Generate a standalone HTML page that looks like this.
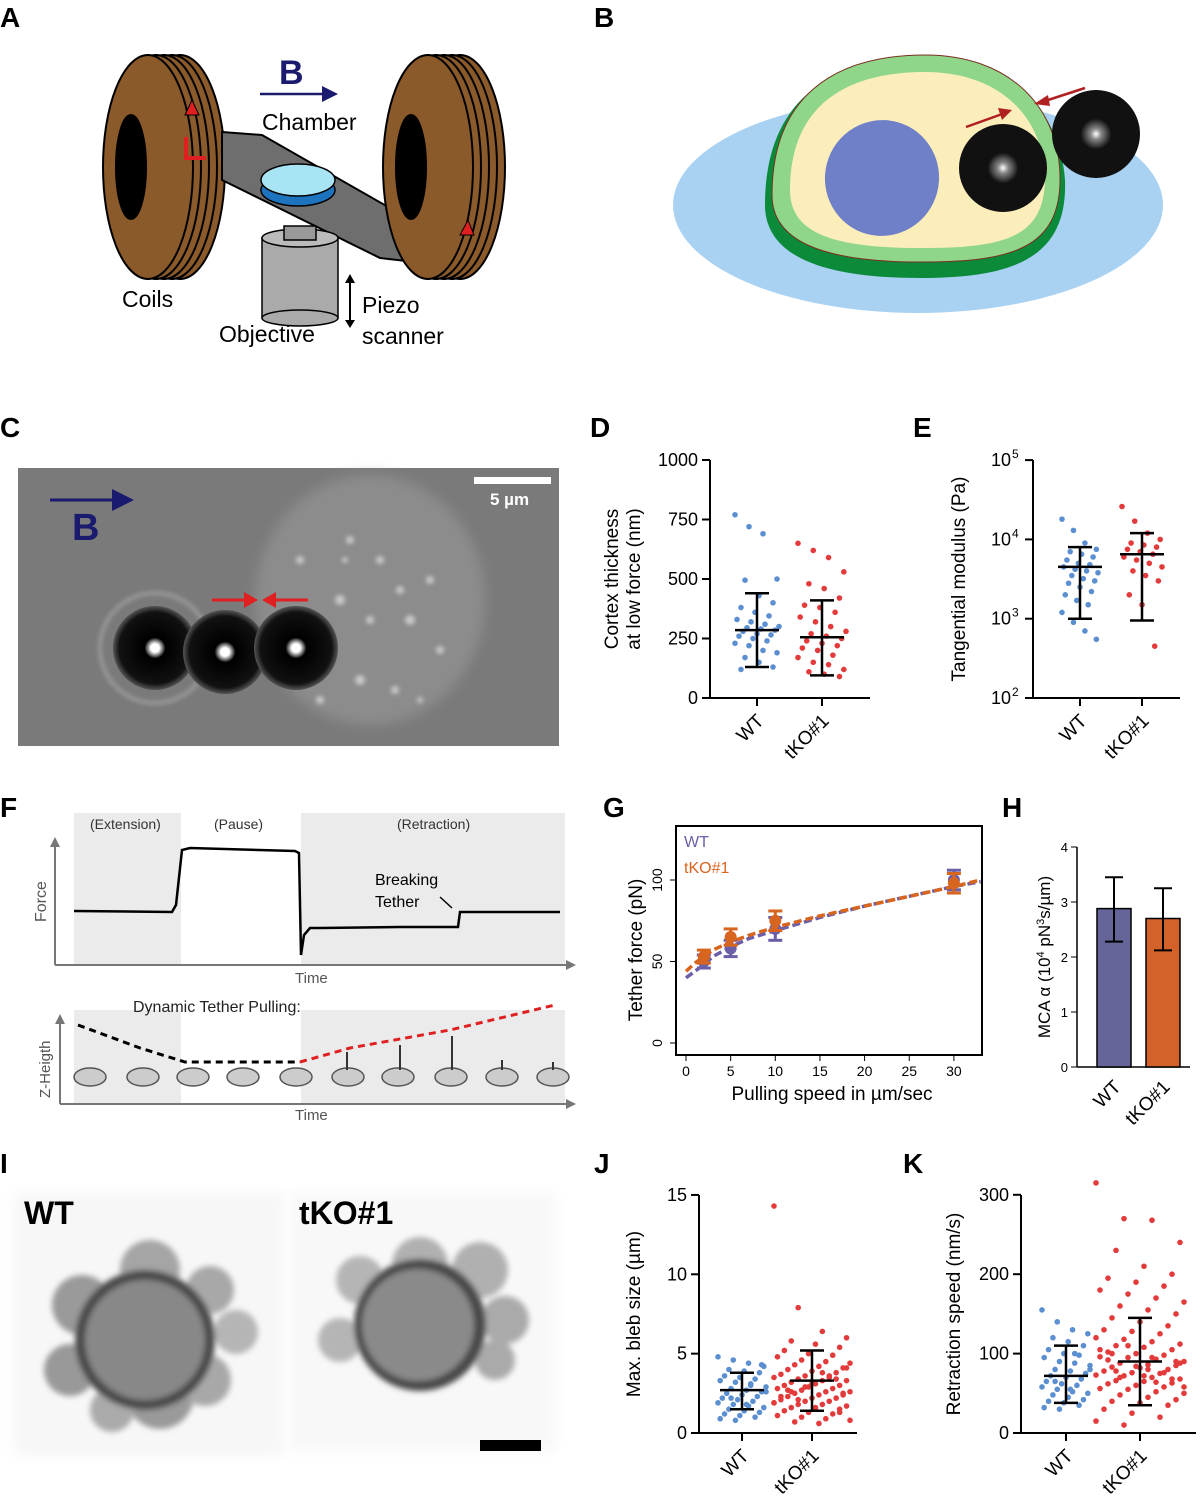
<!DOCTYPE html>
<html><head><meta charset="utf-8">
<style>
html,body{margin:0;padding:0;background:#fff;}
svg{display:block;font-family:"Liberation Sans",sans-serif;}
.pl{font-size:28px;font-weight:bold;}
</style></head>
<body>
<svg id="fig" width="1200" height="1505" viewBox="0 0 1200 1505" xmlns="http://www.w3.org/2000/svg">
<defs>
<radialGradient id="beadg" cx="50%" cy="50%" r="50%"><stop offset="0" stop-color="#fff"/><stop offset="0.12" stop-color="#888"/><stop offset="0.35" stop-color="#111"/><stop offset="1" stop-color="#111"/></radialGradient>
<radialGradient id="bead2" cx="50%" cy="50%" r="50%"><stop offset="0" stop-color="#fff"/><stop offset="0.1" stop-color="#fff"/><stop offset="0.25" stop-color="#000"/><stop offset="0.85" stop-color="#111"/><stop offset="1" stop-color="#555"/></radialGradient>
<filter id="blur6"><feGaussianBlur stdDeviation="6"/></filter>
<filter id="blur3"><feGaussianBlur stdDeviation="3"/></filter>
<filter id="blur2"><feGaussianBlur stdDeviation="2"/></filter>
</defs>

<g>
<text class="pl" x="0" y="27">A</text><text class="pl" x="594" y="27">B</text>
<text class="pl" x="0" y="437">C</text><text class="pl" x="590" y="437">D</text>
<text class="pl" x="913" y="437">E</text><text class="pl" x="0" y="817">F</text>
<text class="pl" x="603" y="817">G</text><text class="pl" x="1002" y="817">H</text>
<text class="pl" x="0" y="1173">I</text><text class="pl" x="594" y="1173">J</text>
<text class="pl" x="903" y="1173">K</text>
</g>

<g>
 <g stroke="#000" stroke-width="2">
  <ellipse cx="180" cy="167" rx="45" ry="112" fill="#8a5a2b"/>
  <ellipse cx="172" cy="167" rx="45" ry="112" fill="#8a5a2b"/>
  <ellipse cx="164" cy="167" rx="45" ry="112" fill="#8a5a2b"/>
  <ellipse cx="156" cy="167" rx="45" ry="112" fill="#8a5a2b"/>
  <ellipse cx="148" cy="167" rx="45" ry="112" fill="#8a5a2b"/>
  <ellipse cx="131" cy="167" rx="15" ry="52" fill="#000"/>
 </g>
 <polygon points="222,132 262,135 425,228 415,262 380,258 222,180" fill="#6e6e6e" stroke="#000" stroke-width="2"/>
 <g stroke="#000" stroke-width="1.5">
  <rect x="262" y="238" width="76" height="80" fill="#aaa"/>
  <ellipse cx="300" cy="318" rx="38" ry="8" fill="#aaa"/>
  <ellipse cx="300" cy="238" rx="38" ry="9" fill="#bbb"/>
  <rect x="284" y="226" width="32" height="14" fill="#999"/>
 </g>
 <g stroke="#000" stroke-width="1.5">
  <ellipse cx="298" cy="190" rx="37" ry="16" fill="#1e73be"/>
  <ellipse cx="298" cy="180" rx="37" ry="16" fill="#a9e4f5"/>
 </g>
 <g stroke="#000" stroke-width="2">
  <ellipse cx="460" cy="167" rx="45" ry="112" fill="#8a5a2b"/>
  <ellipse cx="452" cy="167" rx="45" ry="112" fill="#8a5a2b"/>
  <ellipse cx="444" cy="167" rx="45" ry="112" fill="#8a5a2b"/>
  <ellipse cx="436" cy="167" rx="45" ry="112" fill="#8a5a2b"/>
  <ellipse cx="428" cy="167" rx="45" ry="112" fill="#8a5a2b"/>
  <ellipse cx="411" cy="167" rx="15" ry="52" fill="#000"/>
 </g>
 <polygon points="460,235 468,220 474,235" fill="#e02020" stroke="#000"/>
 <g fill="#e02020" stroke="#000" stroke-width="1">
  <polygon points="185,115 192,100 199,115"/>
  <rect x="184" y="156" width="22" height="4" stroke="none"/><rect x="184" y="137" width="4" height="20" stroke="none"/>
 </g>
 <text x="279" y="84" font-size="34" font-weight="bold" fill="#1a1a6e">B</text>
 <line x1="260" y1="94" x2="325" y2="94" stroke="#1a1a6e" stroke-width="2.5"/>
 <polygon points="322,86 338,94 322,102" fill="#1a1a6e"/>
 <text x="262" y="130" font-size="23">Chamber</text>
 <text x="122" y="307" font-size="23">Coils</text>
 <text x="219" y="342" font-size="23">Objective</text>
 <text x="362" y="313" font-size="23">Piezo</text>
 <text x="362" y="344" font-size="23">scanner</text>
 <line x1="350" y1="283" x2="350" y2="320" stroke="#000" stroke-width="2"/>
 <polygon points="345,283 350,274 355,283"/><polygon points="345,320 350,328 355,320"/>
</g>

<g>
 <ellipse cx="918" cy="205" rx="245" ry="108" fill="#a9d2f2"/>
 <path d="M765,205 C765,100 830,58 925,58 C1010,58 1060,110 1065,180 C1068,260 1010,278 920,278 C820,278 765,255 765,205 Z" fill="#0b8a3a"/>
 <path d="M772,195 C772,100 830,55 925,55 C1008,55 1058,105 1060,175 C1062,250 1010,262 920,262 C820,262 772,240 772,195 Z" fill="#8fd68a" stroke="#7a3020" stroke-width="1"/>
 <path d="M790,190 C790,110 840,72 925,72 C998,72 1042,115 1045,175 C1046,238 1005,248 920,248 C830,248 790,232 790,190 Z" fill="#fbeebb"/>
 <ellipse cx="882" cy="178" rx="57" ry="58" fill="#6f7fc8" transform="rotate(15 882 178)"/>
 <circle cx="1003" cy="168" r="44" fill="url(#beadg)"/>
 <circle cx="1096" cy="134" r="44" fill="url(#beadg)"/>
 <line x1="966" y1="127" x2="1005" y2="113" stroke="#b02020" stroke-width="2.5"/>
 <polygon points="1012,110 998,108 1002,120" fill="#b02020"/>
 <line x1="1085" y1="88" x2="1045" y2="101" stroke="#b02020" stroke-width="2.5"/>
 <polygon points="1034,104 1048,95 1050,106" fill="#b02020"/>
</g>

<g>
 <rect x="18" y="468" width="541" height="278" fill="#7a7a7a"/>
 <ellipse cx="370" cy="600" rx="115" ry="125" fill="#8c8c8c" filter="url(#blur6)"/>
 <g fill="#c8c8c8" filter="url(#blur2)">
  <circle cx="340" cy="600" r="5"/><circle cx="380" cy="560" r="4"/><circle cx="410" cy="620" r="5"/><circle cx="360" cy="680" r="5"/>
  <circle cx="430" cy="580" r="4"/><circle cx="395" cy="690" r="4"/><circle cx="330" cy="650" r="4"/><circle cx="440" cy="650" r="4"/>
  <circle cx="350" cy="540" r="4"/><circle cx="300" cy="560" r="4"/><circle cx="370" cy="620" r="4"/><circle cx="400" cy="590" r="4"/>
  <circle cx="320" cy="700" r="4"/><circle cx="420" cy="700" r="3"/><circle cx="345" cy="560" r="3"/>
 </g>
 <circle cx="155" cy="648" r="55" fill="none" stroke="#999" stroke-width="4" filter="url(#blur2)"/>
 <circle cx="155" cy="648" r="42" fill="url(#bead2)"/>
 <circle cx="225" cy="652" r="42" fill="url(#bead2)"/>
 <circle cx="296" cy="648" r="42" fill="url(#bead2)"/>
 <line x1="212" y1="600" x2="252" y2="600" stroke="#e02020" stroke-width="3"/>
 <polygon points="258,600 244,592 244,608" fill="#e02020"/>
 <line x1="308" y1="600" x2="268" y2="600" stroke="#e02020" stroke-width="3"/>
 <polygon points="262,600 276,592 276,608" fill="#e02020"/>
 <rect x="474" y="477" width="77" height="7" fill="#fff"/>
 <text x="490" y="505" font-size="17" font-weight="bold" fill="#fff">5 µm</text>
 <line x1="50" y1="500" x2="118" y2="500" stroke="#1a1a6e" stroke-width="3"/>
 <polygon points="112,489 134,500 112,511" fill="#1a1a6e"/>
 <text x="72" y="540" font-size="38" font-weight="bold" fill="#1a1a6e">B</text>
</g>

<g>
 <rect x="74" y="813" width="107" height="152" fill="#ebebeb"/>
 <rect x="301" y="813" width="264" height="152" fill="#ebebeb"/>
 <rect x="74" y="1010" width="107" height="94" fill="#ebebeb"/>
 <rect x="301" y="1010" width="264" height="94" fill="#ebebeb"/>
 <text x="90" y="829" font-size="14" fill="#333">(Extension)</text>
 <text x="214" y="829" font-size="14" fill="#333">(Pause)</text>
 <text x="397" y="829" font-size="14" fill="#333">(Retraction)</text>
 <line x1="55" y1="965" x2="568" y2="965" stroke="#777" stroke-width="2"/>
 <polygon points="566,960 576,965 566,970" fill="#777"/>
 <line x1="55" y1="965" x2="55" y2="845" stroke="#777" stroke-width="2"/>
 <polygon points="50,847 55,837 60,847" fill="#777"/>
 <text x="46" y="922" font-size="16" fill="#555" transform="rotate(-90 46 922)">Force</text>
 <text x="295" y="983" font-size="15" fill="#555">Time</text>
 <polyline fill="none" stroke="#000" stroke-width="2.5" points="74,911 172,912 176,905 182,850 190,848 295,851 299,853 301,955 304,935 310,928 320,928 400,927 458,927 460,912 560,912"/>
 <text x="375" y="885" font-size="16">Breaking</text><text x="375" y="907" font-size="16">Tether</text>
 <line x1="440" y1="897" x2="452" y2="908" stroke="#000" stroke-width="1.5"/>
 <line x1="60" y1="1104" x2="568" y2="1104" stroke="#777" stroke-width="2"/>
 <polygon points="566,1099 576,1104 566,1109" fill="#777"/>
 <line x1="60" y1="1104" x2="60" y2="1022" stroke="#777" stroke-width="2"/>
 <polygon points="55,1024 60,1014 65,1024" fill="#777"/>
 <text x="50" y="1098" font-size="15" fill="#555" transform="rotate(-90 50 1098)">Z-Heigth</text>
 <text x="295" y="1120" font-size="15" fill="#555">Time</text>
 <text x="133" y="1012" font-size="16" fill="#222">Dynamic Tether Pulling:</text>
 <polyline fill="none" stroke="#000" stroke-width="3" stroke-dasharray="7,5" points="78,1025 140,1048 185,1062 300,1062"/>
 <polyline fill="none" stroke="#e02020" stroke-width="3" stroke-dasharray="7,5" points="300,1062 350,1048 450,1030 555,1005"/>
 <g fill="#ccc" stroke="#555" stroke-width="1.5">
  <ellipse cx="90" cy="1077" rx="16" ry="9"/><ellipse cx="143" cy="1077" rx="16" ry="9"/><ellipse cx="193" cy="1077" rx="16" ry="9"/>
  <ellipse cx="243" cy="1077" rx="16" ry="9"/><ellipse cx="296" cy="1077" rx="16" ry="9"/><ellipse cx="348" cy="1077" rx="16" ry="9"/>
  <ellipse cx="398" cy="1077" rx="16" ry="9"/><ellipse cx="451" cy="1077" rx="16" ry="9"/><ellipse cx="502" cy="1077" rx="16" ry="9"/>
  <ellipse cx="553" cy="1077" rx="16" ry="9"/>
 </g>
 <g stroke="#333" stroke-width="2" fill="none">
  <line x1="347" y1="1052" x2="347" y2="1070"/><line x1="400" y1="1045" x2="400" y2="1070"/><line x1="452" y1="1036" x2="452" y2="1070"/><line x1="502" y1="1060" x2="502" y2="1070"/><line x1="553" y1="1062" x2="553" y2="1070"/>
 </g>
</g>

<g>
 <rect x="14" y="1192" width="270" height="265" fill="#f7f7f7" filter="url(#blur6)"/>
 <rect x="290" y="1192" width="266" height="260" fill="#f8f8f8" filter="url(#blur6)"/>
 <g filter="url(#blur3)">
  <circle cx="82" cy="1305" r="30" fill="#9a9a9a"/><circle cx="236" cy="1332" r="22" fill="#b5b5b5"/><circle cx="150" cy="1270" r="30" fill="#a5a5a5"/>
  <circle cx="70" cy="1370" r="26" fill="#999"/><circle cx="160" cy="1395" r="34" fill="#9a9a9a"/><circle cx="210" cy="1290" r="24" fill="#a8a8a8"/>
  <circle cx="205" cy="1380" r="26" fill="#a8a8a8"/><circle cx="112" cy="1410" r="22" fill="#aaa"/>
  <circle cx="145" cy="1340" r="70" fill="#4a4a4a"/>
  <circle cx="145" cy="1340" r="60" fill="#888"/>
 </g>
 <g filter="url(#blur3)">
  <circle cx="360" cy="1280" r="24" fill="#b5b5b5"/><circle cx="420" cy="1265" r="28" fill="#b0b0b0"/><circle cx="480" cy="1270" r="28" fill="#b0b0b0"/>
  <circle cx="505" cy="1320" r="24" fill="#aaa"/><circle cx="495" cy="1360" r="20" fill="#aaa"/><circle cx="340" cy="1340" r="22" fill="#b5b5b5"/>
  <circle cx="420" cy="1325" r="66" fill="#4a4a4a"/><circle cx="418" cy="1325" r="56" fill="#8a8a8a"/>
 </g>
 <text x="24" y="1224" font-size="32" font-weight="bold">WT</text>
 <text x="299" y="1224" font-size="32" font-weight="bold">tKO#1</text>
 <rect x="480" y="1440" width="61" height="11" fill="#000"/>
</g>

<g id="charts"></g>
</svg>

<script>
const groups = ["WT", "tKO#1"];
const dWT = [770,720,690,500,495,430,400,380,360,345,330,320,310,300,295,290,285,280,270,265,260,250,240,230,220,200,190,170,150,130,120];
const dKO = [650,620,590,530,480,460,420,390,380,360,340,320,300,280,270,260,250,240,230,220,210,200,180,170,150,140,120,110,100,90];
const dMean = [285, 255];
const dLo = [130, 95];
const dHi = [440, 410];
const dTicks = [0,250,500,750,1000];
const eWT = [18000,13000,9000,7500,7000,6500,6000,5500,5000,4800,4500,4200,4000,3800,3500,3200,3000,2800,2500,2200,2000,1700,1500,1200,900,700,550];
const eKO = [26000,17000,12000,10000,9000,8500,8000,7500,7000,6500,6000,5500,5000,4500,4000,3500,3000,2000,1500,450];
const eMean = [4500, 6500];
const eLo = [1000, 950];
const eHi = [8000, 12000];
const eTickExp = [2,3,4,5];
const gSpeeds = [2,5,10,30];
const gWT = [50,58,70,100];
const gWTerr = [4,5,7,6];
const gKO = [53,65,75,98];
const gKOerr = [4,5,6,6];
const gFitX = [0,1,2,3,5,7,10,15,20,25,30,33];
const gFitWT = [40,44,48,53,59,64,69,77,84,90,96,99];
const gFitKO = [44,49,53,57,62,66,71,78,84,90,96,100];
const gXTicks = [0,5,10,15,20,25,30];
const gYTicks = [0,50,100];
const hVals = [2.88, 2.7];
const hLo = [2.28, 2.12];
const hHi = [3.45, 3.25];
const hTicks = [0,1,2,3,4];
const jWT = [4.8,4.6,4.4,4.2,4.0,3.9,3.8,3.6,3.5,3.4,3.3,3.2,3.0,2.9,2.8,2.7,2.6,2.5,2.4,2.3,2.2,2.1,2.0,1.9,1.8,1.7,1.6,1.5,1.4,1.3,1.2,1.1,1.0,0.9,0.8,3.1,2.6,2.2,1.8,4.3];
const jKO = [14.3,7.9,6.4,6.0,5.8,5.6,5.4,5.2,5.0,4.9,4.8,4.6,4.5,4.4,4.3,4.2,4.1,4.0,3.9,3.8,3.7,3.6,3.5,3.5,3.4,3.3,3.3,3.2,3.1,3.0,3.0,2.9,2.8,2.8,2.7,2.6,2.6,2.5,2.4,2.4,2.3,2.2,2.2,2.1,2.0,2.0,1.9,1.8,1.8,1.7,1.6,1.5,1.5,1.4,1.3,1.2,1.1,1.0,0.9,0.8,0.7,0.6,2.5,2.7,3.1,3.4,2.3,2.9,3.6,1.9,2.1,3.8,4.1,2.6,1.6,1.3];
const jMean = [2.7, 3.3];
const jLo = [1.5, 1.4];
const jHi = [3.8, 5.2];
const jTicks = [0,5,10,15];
const kWT = [155,140,130,125,120,115,110,105,100,98,95,90,88,85,80,78,75,72,70,68,65,62,60,58,55,52,50,48,45,42,40,38,35,32,30,100,80,65,55];
const kKO = [315,270,268,240,230,210,200,195,190,185,180,175,170,165,160,155,150,145,140,135,130,128,125,120,118,115,112,110,108,105,102,100,98,96,95,93,90,88,86,85,83,82,80,78,76,75,73,72,70,68,66,65,63,62,60,58,56,55,52,50,48,45,42,40,38,35,30,25,20,15,10,95,88,78,72,68,92,84,76,105,110,64,58,70,80,90,100];
const kMean = [72, 90];
const kLo = [38, 35];
const kHi = [110, 145];
const kTicks = [0,100,200,300];

const NS = "http://www.w3.org/2000/svg";
const root = document.getElementById("charts");
function mk(parent, tag, attrs, text){
  const el = document.createElementNS(NS, tag);
  for (const k in attrs) el.setAttribute(k, attrs[k]);
  if (text !== undefined) el.textContent = text;
  parent.appendChild(el);
  return el;
}
function jit(i, w){ return (((i*7919) % 23) - 11) / 11 * w; }

function dotPlot(cfg){
  const g = mk(root, "g", {});
  
  
  const y = cfg.y;
  const ax = mk(g, "line", {x1:cfg.x0, y1:cfg.yTop, x2:cfg.x0, y2:cfg.yBot, stroke:"#000","stroke-width":2});
  
  
  const xa = mk(g, "line", {x1:cfg.x0, y1:cfg.yBot, x2:cfg.x1, y2:cfg.yBot, stroke:"#000","stroke-width":2});
  
  
  cfg.ticks.forEach((t) => {
    const yy = y(t);
    mk(g, "line", {x1:cfg.x0-8, y1:yy, x2:cfg.x0, y2:yy, stroke:"#000","stroke-width":2});
    const lb = cfg.tickLabel ? cfg.tickLabel(t) : String(t);
    const tx = mk(g, "text", {x:cfg.x0-12, y:yy+6, "text-anchor":"end", "font-size":18}, cfg.log ? "10" : lb);
    
    
    if (cfg.log) {
      tx.setAttribute('x', cfg.x0-22);
      const sup = mk(g, "text", {x:cfg.x0-21, y:yy-2, "font-size":12}, lb);
      
      
    }
  });
  cfg.xs.forEach(xx => mk(g, "line", {x1:xx, y1:cfg.yBot, x2:xx, y2:cfg.yBot+8, stroke:"#000","stroke-width":2}));
  groups.forEach((gname, gi) => {
    const xx = cfg.xs[gi];
    const tl = mk(g, "text", {x:xx+8, y:cfg.yBot+24, "text-anchor":"end", "font-size":19, transform:`rotate(-45 ${xx+8} ${cfg.yBot+24})`}, gname);
    
    
    const vals = gi === 0 ? cfg.a : cfg.b;
    const col = gi === 0 ? "#5b8fd0" : "#e33b3b";
    vals.forEach((v, i) => {
      const c = mk(g, "circle", {cx: xx + jit(i, cfg.jw[gi]), cy: y(v), r: 2.8, fill: col});
      
      
    });
    const yl = y(cfg.lo[gi]), yh = y(cfg.hi[gi]), ym = y(cfg.mean[gi]);
    const eb = mk(g, "g", {stroke:"#000","stroke-width":2.5});
    
    
    mk(eb, "line", {x1:xx, y1:yl, x2:xx, y2:yh});
    mk(eb, "line", {x1:xx-12, y1:yl, x2:xx+12, y2:yl});
    mk(eb, "line", {x1:xx-12, y1:yh, x2:xx+12, y2:yh});
    mk(eb, "line", {x1:xx-22, y1:ym, x2:xx+22, y2:ym});
  });
  const cx = cfg.titleX, cy = (cfg.yTop+cfg.yBot)/2;
  const tt = mk(g, "text", {x:cx, y:cy, "text-anchor":"middle", "font-size":19, transform:`rotate(-90 ${cx} ${cy})`});
  
  
  cfg.title.forEach((line, li) => mk(tt, "tspan", {x:cx, dy: li===0 ? 0 : 22}, line));
}

dotPlot({name:"panel-d-cortex-thickness", x0:710, x1:870, yTop:460, yBot:698,
  y: v => 698 - v*0.238, ticks:dTicks, xs:[757,822], a:dWT, b:dKO, mean:dMean, lo:dLo, hi:dHi,
  jw:[22,24], titleX:618, title:["Cortex thickness","at low force (nm)"]});
dotPlot({name:"panel-e-tangential-modulus", x0:1033, x1:1180, yTop:460, yBot:698, log:true,
  y: v => 698 - (Math.log10(v)-2)*79.3, ticks:eTickExp.map(e=>Math.pow(10,e)),
  tickLabel: t => String(Math.round(Math.log10(t))), xs:[1080,1142], a:eWT, b:eKO,
  mean:eMean, lo:eLo, hi:eHi, jw:[18,20], titleX:965, title:["Tangential modulus (Pa)"]});
dotPlot({name:"panel-j-bleb-size", x0:699, x1:857, yTop:1195, yBot:1433,
  y: v => 1433 - v*15.87, ticks:jTicks, xs:[742,812], a:jWT, b:jKO, mean:jMean, lo:jLo, hi:jHi,
  jw:[24,38], titleX:640, title:["Max. bleb size (µm)"]});
dotPlot({name:"panel-k-retraction-speed", x0:1021, x1:1196, yTop:1195, yBot:1433,
  y: v => 1433 - v*0.794, ticks:kTicks, xs:[1066,1140], a:kWT, b:kKO, mean:kMean, lo:kLo, hi:kHi,
  jw:[24,44], titleX:960, title:["Retraction speed (nm/s)"]});

(function(){
  const g = mk(root, "g", {});
  
  
  const X = s => 686 + s*8.93;
  const Y = v => 1043 - v*1.63;
  const box = mk(g, "rect", {x:676, y:826, width:306, height:229, fill:"none", stroke:"#000", "stroke-width":2});
  
  
  gXTicks.forEach(t => {
    mk(g, "line", {x1:X(t), y1:1055, x2:X(t), y2:1061, stroke:"#000"});
    const tx = mk(g, "text", {x:X(t), y:1076, "text-anchor":"middle", "font-size":14}, String(t));
    
    
  });
  gYTicks.forEach(t => {
    mk(g, "line", {x1:670, y1:Y(t), x2:676, y2:Y(t), stroke:"#000"});
    const tx = mk(g, "text", {x:662, y:Y(t), "text-anchor":"middle", "font-size":14, transform:`rotate(-90 662 ${Y(t)})`}, String(t));
    
    
  });
  const xt = mk(g, "text", {x:832, y:1100, "text-anchor":"middle", "font-size":19}, "Pulling speed in µm/sec");
  
  
  const yt = mk(g, "text", {x:642, y:950, "text-anchor":"middle", "font-size":19, transform:"rotate(-90 642 950)"}, "Tether force (pN)");
  
  
  const series = [
    {n:"wt", fit:gFitWT, v:gWT, e:gWTerr, c:"#6a5fa8"},
    {n:"tko", fit:gFitKO, v:gKO, e:gKOerr, c:"#d8651f"}];
  series.forEach(s => {
    const fl = mk(g, "polyline", {points: gFitX.map((x,i)=>X(x)+","+Y(s.fit[i])).join(" "), fill:"none", stroke:s.c, "stroke-width":3.5, "stroke-dasharray":"8,4"});
    
    
    gSpeeds.forEach((sp,i) => {
      const x = X(sp), y = Y(s.v[i]), d = s.e[i]*1.63;
      mk(g, "line", {x1:x, y1:y-d, x2:x, y2:y+d, stroke:s.c, "stroke-width":3});
      mk(g, "line", {x1:x-7, y1:y-d, x2:x+7, y2:y-d, stroke:s.c, "stroke-width":3});
      mk(g, "line", {x1:x-7, y1:y+d, x2:x+7, y2:y+d, stroke:s.c, "stroke-width":3});
      const c = mk(g, "circle", {cx:x, cy:y, r:6, fill:s.c});
      
      
    });
  });
  const l1 = mk(g, "text", {x:684, y:847, "font-size":16, fill:"#6a5fa8"}, "WT");
  
  
  const l2 = mk(g, "text", {x:684, y:873, "font-size":16, fill:"#d8651f"}, "tKO#1");
  
  
})();

(function(){
  const g = mk(root, "g", {});
  
  
  const Y = v => 1067 - v*55;
  const xs = [1114, 1163];
  const cols = ["#66659a", "#d2622a"];
  mk(g, "line", {x1:1077, y1:Y(4), x2:1077, y2:1067, stroke:"#000", "stroke-width":1.5});
  mk(g, "line", {x1:1077, y1:1067, x2:1190, y2:1067, stroke:"#000", "stroke-width":1.5});
  hTicks.forEach(t => {
    mk(g, "line", {x1:1071, y1:Y(t), x2:1077, y2:Y(t), stroke:"#000"});
    const tx = mk(g, "text", {x:1068, y:Y(t)+5, "text-anchor":"end", "font-size":13}, String(t));
    
    
  });
  groups.forEach((gn, i) => {
    const b = mk(g, "rect", {x:xs[i]-17, y:Y(hVals[i]), width:34, height:hVals[i]*55, fill:cols[i], stroke:"#000", "stroke-width":1.5});
    
    
    mk(g, "line", {x1:xs[i], y1:Y(hLo[i]), x2:xs[i], y2:Y(hHi[i]), stroke:"#000", "stroke-width":2});
    mk(g, "line", {x1:xs[i]-9, y1:Y(hLo[i]), x2:xs[i]+9, y2:Y(hLo[i]), stroke:"#000", "stroke-width":2});
    mk(g, "line", {x1:xs[i]-9, y1:Y(hHi[i]), x2:xs[i]+9, y2:Y(hHi[i]), stroke:"#000", "stroke-width":2});
    const tl = mk(g, "text", {x:xs[i]+8, y:1088, "text-anchor":"end", "font-size":19, transform:`rotate(-45 ${xs[i]+8} 1088)`}, gn);
    
    
  });
  const yt = mk(g, "text", {x:1050, y:957, "text-anchor":"middle", "font-size":17, transform:"rotate(-90 1050 957)"}, "MCA α (10");
  
  
  mk(yt, "tspan", {dy:-6, "font-size":11}, "4");
  mk(yt, "tspan", {dy:6}, " pN");
  mk(yt, "tspan", {dy:-6, "font-size":11}, "3");
  mk(yt, "tspan", {dy:6}, "s/µm)");
})();
</script>
</body></html>
